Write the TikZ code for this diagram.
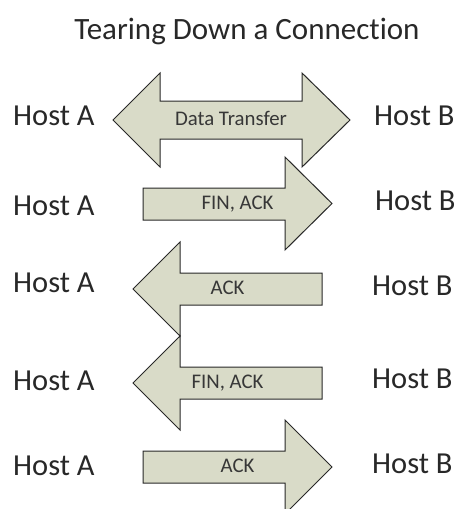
\documentclass[tikz,border=0pt]{standalone}
\usepackage{fontspec}
\setmainfont{Carlito}[Ligatures=NoCommon]
\definecolor{arrowfill}{RGB}{217,219,200}
\definecolor{inkgray}{RGB}{40,40,40}
\definecolor{labelgray}{RGB}{55,55,55}
\tikzset{
  flowarrow/.style={draw=inkgray, fill=arrowfill, line width=1pt, line join=miter},
  hostlabel/.style={anchor=base west, inner sep=0pt, text=inkgray, font=\fontsize{30.5}{30.5}\selectfont},
  msglabel/.style={anchor=base, inner sep=0pt, text=labelgray, font=\fontsize{20.8}{20.8}\selectfont},
  titlelabel/.style={anchor=base, inner sep=0pt, text=inkgray, font=\fontsize{31}{31}\selectfont}
}
\begin{document}
\begin{tikzpicture}[x=1pt, y=-1pt]
  \useasboundingbox (0,0) rectangle (455,509);
  \clip (0,0) rectangle (455,509);
  \fill[white] (0,0) rectangle (455,509);

  % title
  \node[titlelabel] (title) at (247,39) {Tearing Down a Connection};

  % row 1: two-way data transfer
  \draw[flowarrow] (113,120) -- (160,73) -- (160,101) -- (302,101) -- (302,73)
    -- (350,120) -- (302,167) -- (302,139) -- (160,139) -- (160,167) -- cycle;
  \node[msglabel] (data) at (231,125) {Data Transfer};

  % row 2: FIN, ACK from A to B
  \draw[flowarrow] (143,188) -- (285,188) -- (285,157) -- (332,203.5)
    -- (285,250) -- (285,220) -- (143,220) -- cycle;
  \node[msglabel] (fin1) at (237.5,209) {FIN, ACK};

  % row 3: ACK from B to A
  \draw[flowarrow] (133,289) -- (180,242) -- (180,273) -- (322,273)
    -- (322,305) -- (180,305) -- (180,336) -- cycle;
  \node[msglabel] (ack1) at (227.5,294) {ACK};

  % row 4: FIN, ACK from B to A
  \draw[flowarrow] (133,383) -- (180,336) -- (180,367) -- (322,367)
    -- (322,399) -- (180,399) -- (180,430) -- cycle;
  \node[msglabel] (fin2) at (227.5,388) {FIN, ACK};

  % row 5: final ACK from A to B
  \draw[flowarrow] (143,451) -- (285,451) -- (285,420) -- (332,467)
    -- (285,514) -- (285,483) -- (143,483) -- cycle;
  \node[msglabel] (ack2) at (237.5,472) {ACK};

  % host names
  \node[hostlabel] (a1) at (13,125) {Host A};
  \node[hostlabel] (a2) at (13,215) {Host A};
  \node[hostlabel] (a3) at (13,292) {Host A};
  \node[hostlabel] (a4) at (13,390) {Host A};
  \node[hostlabel] (a5) at (13,475) {Host A};
  \node[hostlabel] (b1) at (374,125) {Host B};
  \node[hostlabel] (b2) at (375,210) {Host B};
  \node[hostlabel] (b3) at (372,295) {Host B};
  \node[hostlabel] (b4) at (372,388) {Host B};
  \node[hostlabel] (b5) at (372,473) {Host B};
\end{tikzpicture}
\end{document}
